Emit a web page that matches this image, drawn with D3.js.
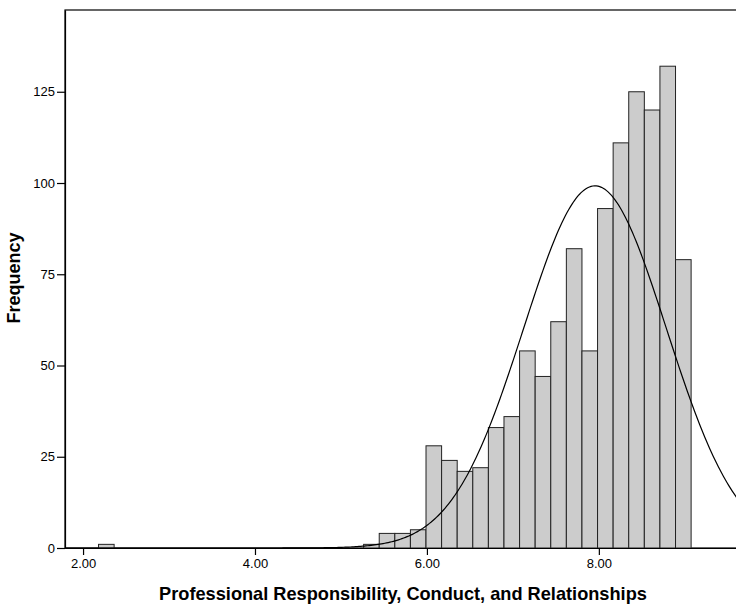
<!DOCTYPE html>
<html>
<head>
<meta charset="utf-8">
<script src="https://cdn.jsdelivr.net/npm/d3@7"></script>
<style>
  body { margin: 0; background: #fff; }
  svg { display: block; font-family: "Liberation Sans", Arial, sans-serif; }
</style>
</head>
<body>
<svg id="chart"></svg>
<script>
// histogram bins: lower edge of first bin, bin width, counts per bin
const binStart = 2.18;
const binWidth = 0.1814;
const binCounts = [1, 0, 0, 0, 0, 0, 0, 0, 0, 0, 0, 0, 0, 0, 0, 0, 0,
  1, 4, 4, 5, 28, 24, 21, 22, 33, 36, 54, 47, 62, 82, 54, 93, 111, 125, 120, 132, 79];
// fitted normal curve
const curveMean = 7.955;
const curveSd = 0.83;
const xTicks = [2, 4, 6, 8];
const yTicks = [0, 25, 50, 75, 100, 125];
const xTitle = 'Professional Responsibility, Conduct, and Relationships';
const yTitle = 'Frequency';

const width = 736, height = 604;
const margin = {top: 10, right: -10, bottom: 56, left: 65};
const innerW = width - margin.left - margin.right;
const innerH = height - margin.top - margin.bottom;

const svg = d3.select('#chart').attr('width', width).attr('height', height);
const chart = svg.append('g').attr('transform', `translate(${margin.left},${margin.top})`);

const xScale = d3.scaleLinear().domain([1.79, 9.7]).range([0, 680]);
const yScale = d3.scaleLinear().domain([0, 147.4]).range([innerH, 0]);

const bins = binCounts.map((c, i) => ({x0: binStart + i * binWidth, x1: binStart + (i + 1) * binWidth, count: c}))
  .filter(d => d.count > 0);

// frame (top and left, right side falls off the picture)
chart.append('rect')
  .attr('x', 0).attr('y', 0)
  .attr('width', innerW).attr('height', innerH)
  .attr('fill', 'none').attr('stroke', '#000').attr('stroke-width', 1.2);

chart.selectAll('.bar')
  .data(bins)
  .join('rect')
  .attr('class', 'bar')
  .attr('x', d => xScale(d.x0))
  .attr('width', d => xScale(d.x1) - xScale(d.x0))
  .attr('y', d => yScale(d.count))
  .attr('height', d => innerH - yScale(d.count))
  .attr('fill', '#cccccc')
  .attr('stroke', '#222')
  .attr('stroke-width', 1);

// normal curve
const total = d3.sum(binCounts);
const peak = total * binWidth / (curveSd * Math.sqrt(2 * Math.PI));
const curvePts = d3.range(xScale.domain()[0], 9.75, 0.02)
  .map(v => [v, peak * Math.exp(-0.5 * Math.pow((v - curveMean) / curveSd, 2))]);

chart.append('path')
  .datum(curvePts)
  .attr('fill', 'none')
  .attr('stroke', '#000')
  .attr('stroke-width', 1.2)
  .attr('d', d3.line().x(d => xScale(d[0])).y(d => yScale(d[1])));

// axes
const xAxisG = chart.append('g')
  .attr('transform', `translate(0,${innerH})`)
  .call(d3.axisBottom(xScale).tickValues(xTicks).tickFormat(d3.format('.2f')).tickSize(7).tickPadding(4).tickSizeOuter(0));
const yAxisG = chart.append('g')
  .call(d3.axisLeft(yScale).tickValues(yTicks).tickSize(8).tickPadding(2).tickSizeOuter(0));

[xAxisG, yAxisG].forEach(g => {
  g.attr('font-size', 13).attr('font-family', '"Liberation Sans", Arial, sans-serif');
  g.select('.domain').attr('stroke-width', 1.2);
  g.selectAll('.tick line').attr('stroke-width', 1.2);
  g.selectAll('.tick text').attr('fill', '#000');
});

svg.append('text')
  .attr('x', 403)
  .attr('y', 600)
  .attr('text-anchor', 'middle')
  .attr('font-size', 18.2)
  .attr('font-weight', 'bold')
  .text(xTitle);

svg.append('text')
  .attr('transform', `translate(20,278)rotate(-90)`)
  .attr('text-anchor', 'middle')
  .attr('font-size', 18)
  .attr('font-weight', 'bold')
  .text(yTitle);
</script>
</body>
</html>
